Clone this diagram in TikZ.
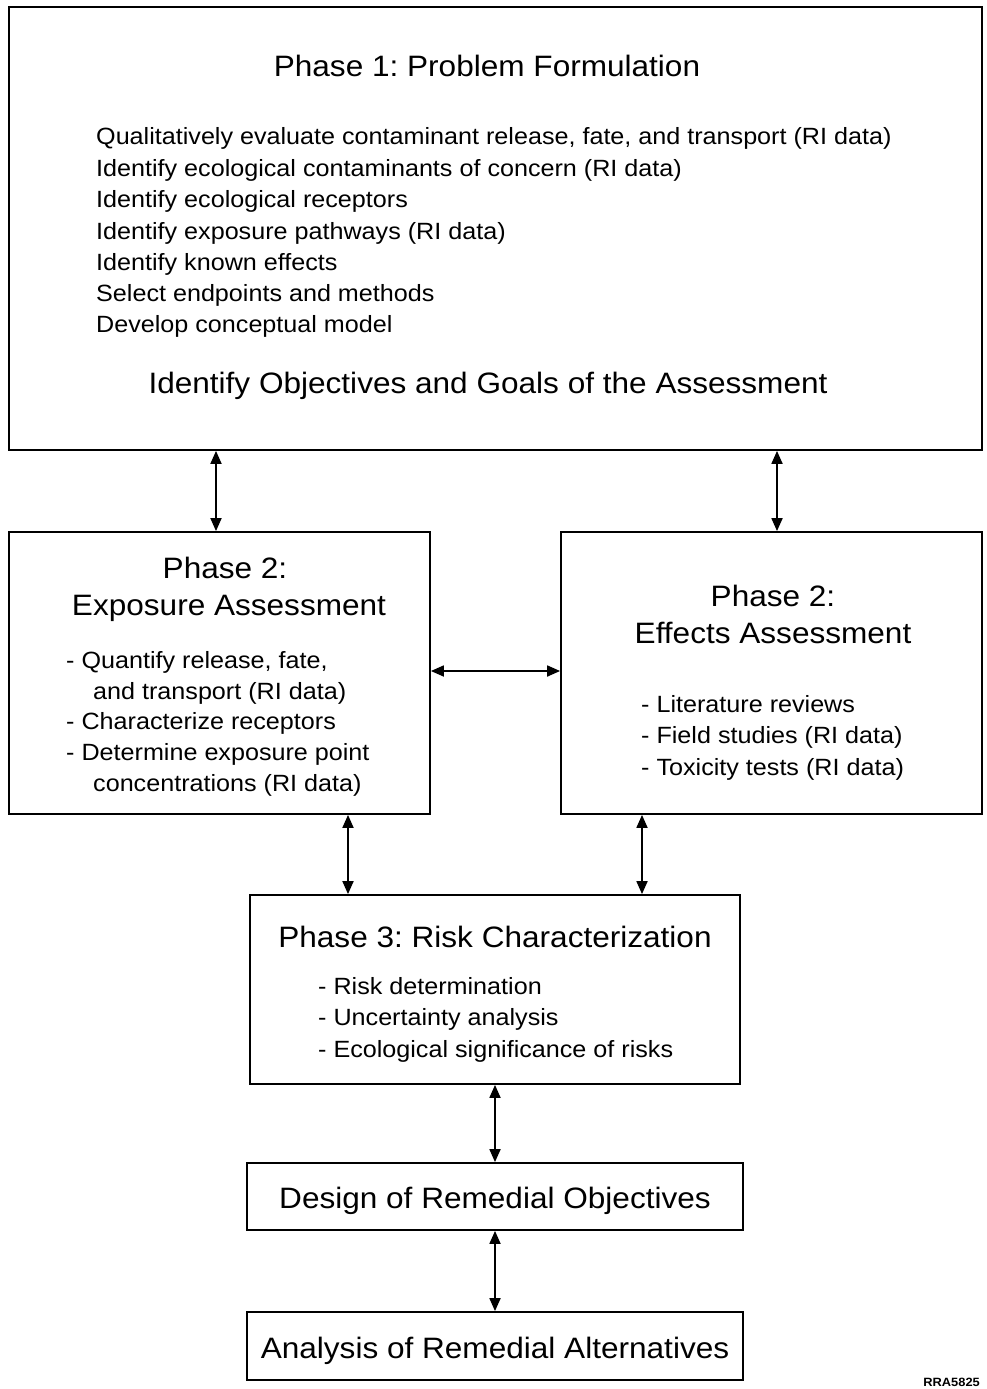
\documentclass[tikz,border=0pt]{standalone}
\usepackage{fontspec}
\setmainfont[FakeStretch=1.07]{Liberation Sans}
\usetikzlibrary{arrows.meta}
\begin{document}
\frenchspacing
\begin{tikzpicture}[x=1pt,y=-1pt,
  box/.style={draw,line width=1.8pt,minimum width=#1,inner sep=0pt},
  conn/.style={line width=1.8pt,{Triangle[length=13pt,width=11pt]}-{Triangle[length=13pt,width=11pt]}},
  big/.style={font=\fontsize{29.5}{34}\selectfont},
  mid/.style={font=\fontsize{23.5}{27}\selectfont},
  ttl/.style={big,anchor=base,inner sep=0pt},
  ln/.style={mid,anchor=base west,inner sep=0pt}]
\useasboundingbox (0,0) rectangle (986,1389);
% boxes
\node[box=973pt,minimum height=443pt] (p1) at (495.5,228.5) {};
\node[box=421pt,minimum height=282pt] (ex) at (219.5,673) {};
\node[box=421pt,minimum height=282pt] (ef) at (771.5,673) {};
\node[box=490pt,minimum height=189pt] (p3) at (495,989.5) {};
\node[box=496pt,minimum height=67pt] (d) at (495,1196.5) {};
\node[box=496pt,minimum height=68pt] (an) at (495,1346) {};
% phase 1 text
\node[ttl] (t1) at (487,77) {Phase 1: Problem Formulation};
\node[ln] (l1) at (96,144) {Qualitatively evaluate contaminant release, fate, and transport (RI data)};
\node[ln] (l2) at (96,176) {Identify ecological contaminants of concern (RI data)};
\node[ln] (l3) at (96,207) {Identify ecological receptors};
\node[ln] (l4) at (96,239) {Identify exposure pathways (RI data)};
\node[ln] (l5) at (96,270) {Identify known effects};
\node[ln] (l6) at (96,301) {Select endpoints and methods};
\node[ln] (l7) at (96,332) {Develop conceptual model};
\node[ttl] (t2) at (488,393) {Identify Objectives and Goals of the Assessment};
% exposure
\node[ttl] (e1) at (225,578) {Phase 2:};
\node[ttl] (e2) at (229,615) {Exposure Assessment};
\node[ln] (e3) at (66,668) {- Quantify release, fate,};
\node[ln] (e4) at (93,699) {and transport (RI data)};
\node[ln] (e5) at (66,729) {- Characterize receptors};
\node[ln] (e6) at (66,760) {- Determine exposure point};
\node[ln] (e7) at (93,791) {concentrations (RI data)};
% effects
\node[ttl] (f1) at (773,606) {Phase 2:};
\node[ttl] (f2) at (773,643) {Effects Assessment};
\node[ln] (f3) at (641,712) {- Literature reviews};
\node[ln] (f4) at (641,743) {- Field studies (RI data)};
\node[ln] (f5) at (641,775) {- Toxicity tests (RI data)};
% phase 3
\node[ttl] (r1) at (495,947) {Phase 3: Risk Characterization};
\node[ln] (r2) at (318,994) {- Risk determination};
\node[ln] (r3) at (318,1025) {- Uncertainty analysis};
\node[ln] (r4) at (318,1057) {- Ecological significance of risks};
% bottom boxes text
\node[ttl] (d1) at (495,1208) {Design of Remedial Objectives};
\node[ttl] (a1) at (495,1358) {Analysis of Remedial Alternatives};
\node[anchor=north east,inner sep=0pt,font=\bfseries\fontsize{12}{14}\selectfont] (lab) at (980,1378) {RRA5825};
% connectors
\draw[conn] ([xshift=-3.5]ex.north |- p1.south) -- ([xshift=-3.5]ex.north);
\draw[conn] ([xshift=5.5]ef.north |- p1.south) -- ([xshift=5.5]ef.north);
\draw[conn] ([yshift=2]ex.east) -- ([yshift=2]ef.west);
\draw[conn] ([xshift=-147]p3.north |- ex.south) -- ([xshift=-147]p3.north);
\draw[conn] ([xshift=147]p3.north |- ef.south) -- ([xshift=147]p3.north);
\draw[conn] (p3.south) -- (d.north);
\draw[conn] (d.south) -- (an.north);
\end{tikzpicture}
\end{document}
